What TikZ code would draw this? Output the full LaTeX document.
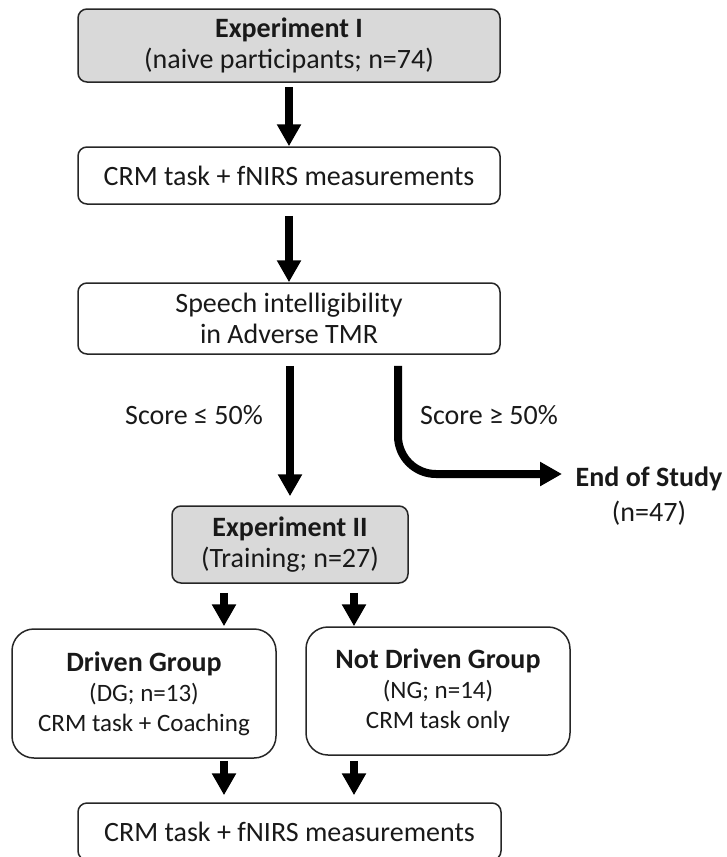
\documentclass[tikz,border=0pt]{standalone}
\usepackage{fontspec}
\setmainfont{Carlito}
\usetikzlibrary{arrows.meta}
\begin{document}
\begin{tikzpicture}[x=1pt,y=-1pt,
  box/.style={draw=black!85, line width=1.5pt, rounded corners=9pt, align=center,
    inner sep=0pt, font=\fontsize{28}{31}\selectfont, text=black!90},
  graybox/.style={box, fill=gray!30},
  groupbox/.style={box, rounded corners=22pt, font=\fontsize{28}{30}\selectfont},
  lbl/.style={font=\fontsize{28}{31}\selectfont, text=black!90, inner sep=0pt},
  arr/.style={line width=8pt, -{Triangle[width=23pt,length=22pt]}}]
\useasboundingbox (0,0) rectangle (726,857);
\clip (0,0) rectangle (726,857);

\node[graybox, minimum width=422pt, minimum height=73pt] (b1) at (289,45.5)
  {\textbf{Experiment I}\\(naive participants; n=74)};
\node[box, minimum width=422pt, minimum height=57pt] (b2) at (289,175.5)
  {CRM task + fNIRS measurements};
\node[box, minimum width=422pt, minimum height=71pt] (b3) at (289,318.5)
  {Speech intelligibility\\in Adverse TMR};
\node[graybox, minimum width=236pt, minimum height=77pt] (b4) at (290,544.5)
  {\textbf{Experiment II}\\(Training; n=27)};
\node[groupbox, minimum width=264pt, minimum height=129pt] (dg) at (144,693.5)
  {\textbf{Driven Group}\\{\fontsize{25}{30}\selectfont (DG; n=13)}\\{\fontsize{25}{30}\selectfont CRM task + Coaching}};
\node[groupbox, minimum width=264pt, minimum height=128pt] (ng) at (438,691)
  {\textbf{Not Driven Group}\\{\fontsize{25}{30}\selectfont (NG; n=14)}\\{\fontsize{25}{30}\selectfont CRM task only}};
\node[box, minimum width=423pt, minimum height=57pt] (b5) at (289.5,831.5)
  {CRM task + fNIRS measurements};

\node[lbl] (l1) at (194,415) {Score ≤ 50\%};
\node[lbl] (l2) at (489,415) {Score ≥ 50\%};
\node[lbl, align=center, font=\fontsize{28}{35}\selectfont] (endst) at (649,496)
  {\textbf{End of Study}\\(n=47)};
\coordinate (et) at (562,474);

\draw[arr, shorten <=4pt] (b1.south) -- (b2.north);
\draw[arr, shorten <=11pt] (b2.south) -- (b3.north);
\draw[arr, shorten <=11pt, shorten >=9pt] ([xshift=1pt]b3.south) -- ([xshift=1pt]b3.south |- b4.north);
\draw[arr, rounded corners=38pt, shorten <=11pt]
  ([xshift=109pt]b3.south) -- ([xshift=109pt]b3.south |- et) -- (et);
\draw[arr, shorten <=9pt, shorten >=2pt] ([xshift=-66pt]b4.south) -- ([xshift=-66pt]b4.south |- dg.north);
\draw[arr, shorten <=9pt] ([xshift=64pt]b4.south) -- ([xshift=64pt]b4.south |- ng.north);
\draw[arr, shorten <=2pt, shorten >=7pt] ([xshift=80pt]dg.south) -- ([xshift=80pt]dg.south |- b5.north);
\draw[arr, shorten <=5pt, shorten >=7pt] ([xshift=-84pt]ng.south) -- ([xshift=-84pt]ng.south |- b5.north);
\end{tikzpicture}
\end{document}
